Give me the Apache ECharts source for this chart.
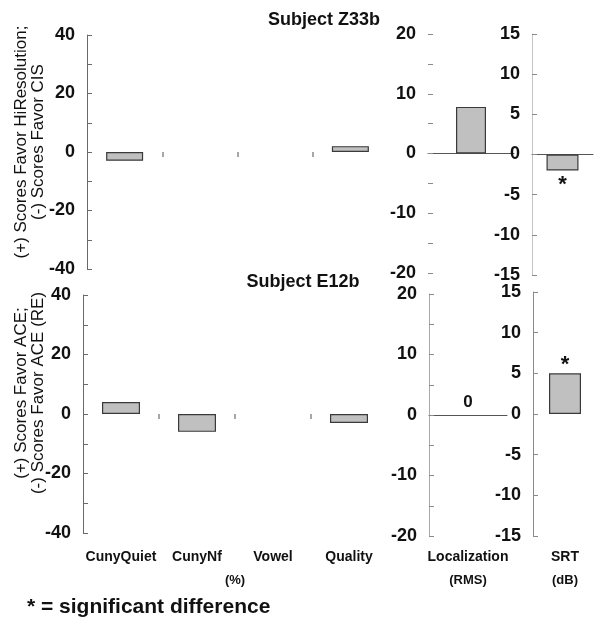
<!DOCTYPE html>
<html><head><meta charset="utf-8">
<script src="https://cdn.jsdelivr.net/npm/echarts@6/dist/echarts.min.js"></script>
<style>html,body{margin:0;padding:0;background:#fff}#c{width:602px;height:627px}</style>
</head><body><div id="c"></div>
<script>
// ---- data ----
const pctCategories = ['CunyQuiet', 'CunyNf', 'Vowel', 'Quality'];
const locCategories = ['Localization'];
const srtCategories = ['SRT'];
const z33bPct = [-3, 0, 0, 2];
const e12bPct = [4, -6, 0, -3];
const z33bLoc = [7.8];
const e12bLoc = [0];
const z33bSrt = [-2];
const e12bSrt = [5];
const z33bSrtSignificant = [true];
const e12bSrtSignificant = [true];
const e12bLocShowValue = [true];
const unitPct = '(%)', unitLoc = '(RMS)', unitSrt = '(dB)';
const titleTop = 'Subject Z33b', titleBottom = 'Subject E12b';
const yNameTop = ['(+) Scores Favor HiResolution;', '(-) Scores Favor CIS'];
const yNameBottom = ['(+) Scores Favor ACE;', '(-) Scores Favor ACE (RE)'];
const footnote = '* = significant difference';

// ---- style ----
const FONT = "'Liberation Sans', Arial, Helvetica, sans-serif";
const barFill = '#c0c0c0', barBorder = '#3a3a3a';

const grids = [
  {left: 87,  top: 35,  width: 301, height: 234},
  {left: 428, top: 34,  width: 86,  height: 239},
  {left: 532, top: 34,  width: 61,  height: 241},
  {left: 83,  top: 295, width: 304, height: 238},
  {left: 429, top: 294, width: 78,  height: 242},
  {left: 533, top: 292, width: 64,  height: 244}
].map(g => Object.assign({outerBoundsMode: 'none', containLabel: false}, g));

function yAxis(gi, range, interval, labelEvery, lineColor, tickColor) {
  return {
    type: 'value', gridIndex: gi, min: -range, max: range, interval: interval,
    axisLine: {show: !!lineColor, lineStyle: {color: lineColor || '#fff', width: 1}},
    axisTick: {show: true, inside: true, length: 5, lineStyle: {color: tickColor, width: 1}},
    splitLine: {show: false},
    axisLabel: {margin: 12, color: '#111', fontFamily: FONT, fontWeight: 'bold', fontSize: 18,
      formatter: v => (Math.round(v) % labelEvery === 0 ? String(v) : '')}
  };
}
const yAxes = [
  yAxis(0, 40, 10, 20, '#6a6a6a', '#6a6a6a'),
  yAxis(1, 20, 5, 10, null, '#8a8a8a'),
  yAxis(2, 15, 5, 5, '#c4c4c4', '#8a8a8a'),
  yAxis(3, 40, 10, 20, '#6a6a6a', '#6a6a6a'),
  yAxis(4, 20, 5, 10, '#a8a8a8', '#8a8a8a'),
  yAxis(5, 15, 5, 5, '#8a8a8a', '#8a8a8a')
];

const hiddenCat = (gi, cats) => ({type: 'category', gridIndex: gi, data: cats, show: false,
  axisLine: {onZero: false}});
const zeroLineCat = (gi, cats) => ({
  type: 'category', gridIndex: gi, data: cats,
  axisLine: {show: true, onZero: true, lineStyle: {color: '#555', width: 1}},
  axisTick: {show: false}, axisLabel: {show: false}, splitLine: {show: false}
});
const zeroTicks = (gi, n) => ({
  type: 'value', gridIndex: gi, min: 0, max: n, position: 'bottom',
  axisLine: {show: false, onZero: true},
  axisTick: {show: true, length: 5, customValues: Array.from({length: n - 1}, (_, i) => i + 1),
    lineStyle: {color: '#8a8a8a', width: 1.5}},
  axisLabel: {show: false}, splitLine: {show: false}
});
const zeroLineVal = (gi) => ({
  type: 'value', gridIndex: gi, min: 0, max: 1, position: 'bottom',
  axisLine: {show: true, onZero: true, lineStyle: {color: '#555', width: 1}},
  axisTick: {show: false}, axisLabel: {show: false}, splitLine: {show: false}
});
const labelCat = (gi, cats, unit, margin, nameGap) => ({
  type: 'category', gridIndex: gi, data: cats, position: 'bottom',
  axisLine: {show: false, onZero: false}, axisTick: {show: false},
  axisLabel: {margin: margin, color: '#111', fontFamily: FONT, fontWeight: 'bold', fontSize: 14, interval: 0},
  name: unit, nameLocation: 'middle', nameGap: nameGap,
  nameTextStyle: {color: '#111', fontFamily: FONT, fontWeight: 'bold', fontSize: 13}
});

const xAxes = [
  hiddenCat(0, pctCategories),                 // 0
  zeroTicks(0, pctCategories.length),          // 1
  zeroLineCat(1, locCategories),               // 2
  zeroLineCat(2, srtCategories),               // 3
  labelCat(3, pctCategories, unitPct, 17, 41), // 4
  zeroTicks(3, pctCategories.length),          // 5
  labelCat(4, locCategories, unitLoc, 14, 38), // 6
  zeroLineVal(4),                              // 7
  labelCat(5, srtCategories, unitSrt, 14, 38)  // 8
];

function barData(values) {
  return values.map(v => ({value: v, itemStyle: v === 0 ? {borderWidth: 0, color: 'rgba(0,0,0,0)'} : {}}));
}
function barSeries(xi, yi, values, width, extra) {
  return Object.assign({
    type: 'bar', xAxisIndex: xi, yAxisIndex: yi, data: barData(values), barWidth: width,
    itemStyle: {color: barFill, borderColor: barBorder, borderWidth: 1.2},
    silent: true, animation: false
  }, extra || {});
}
const starLabel = (flags, dist) => ({
  show: true, position: 'outside', distance: dist, color: '#111', fontFamily: FONT,
  fontWeight: 'bold', fontSize: 22, formatter: p => (flags[p.dataIndex] ? '*' : '')
});
const valueLabel = (flags, dist) => ({
  show: true, position: 'top', distance: dist, color: '#111', fontFamily: FONT,
  fontWeight: 'bold', fontSize: 17, formatter: p => (flags[p.dataIndex] ? String(p.value) : '')
});

const series = [
  barSeries(0, 0, z33bPct, 37),
  barSeries(2, 1, z33bLoc, 30),
  barSeries(3, 2, z33bSrt, 32, {label: starLabel(z33bSrtSignificant, 3)}),
  barSeries(4, 3, e12bPct, 38),
  barSeries(6, 4, e12bLoc, 30, {label: valueLabel(e12bLocShowValue, 4)}),
  barSeries(8, 5, e12bSrt, 32, {label: starLabel(e12bSrtSignificant, -3)})
];

const nameStyle = {fontFamily: FONT, fontSize: 17, fill: '#111', align: 'center', verticalAlign: 'middle', lineHeight: 17};
const option = {
  backgroundColor: '#fff',
  animation: false,
  textStyle: {fontFamily: FONT},
  grid: grids,
  xAxis: xAxes,
  yAxis: yAxes,
  series: series,
  title: [
    {text: titleTop, left: 319, top: 6, textAlign: 'center',
     textStyle: {fontFamily: FONT, fontWeight: 'bold', fontSize: 18, color: '#111'}},
    {text: titleBottom, left: 298, top: 268, textAlign: 'center',
     textStyle: {fontFamily: FONT, fontWeight: 'bold', fontSize: 18, color: '#111'}}
  ],
  graphic: [
    {type: 'text', x: 30, y: 142, rotation: Math.PI / 2, style: Object.assign({text: yNameTop.join('\n')}, nameStyle)},
    {type: 'text', x: 30, y: 393, rotation: Math.PI / 2, style: Object.assign({text: yNameBottom.join('\n')}, nameStyle)},
    {type: 'text', x: 27, y: 607, style: {text: footnote, fontFamily: FONT, fontWeight: 'bold', fontSize: 21, fill: '#111', verticalAlign: 'middle'}}
  ]
};
const chart = echarts.init(document.getElementById('c'), null, {renderer: 'canvas'});
chart.setOption(option);
</script>
</body></html>
